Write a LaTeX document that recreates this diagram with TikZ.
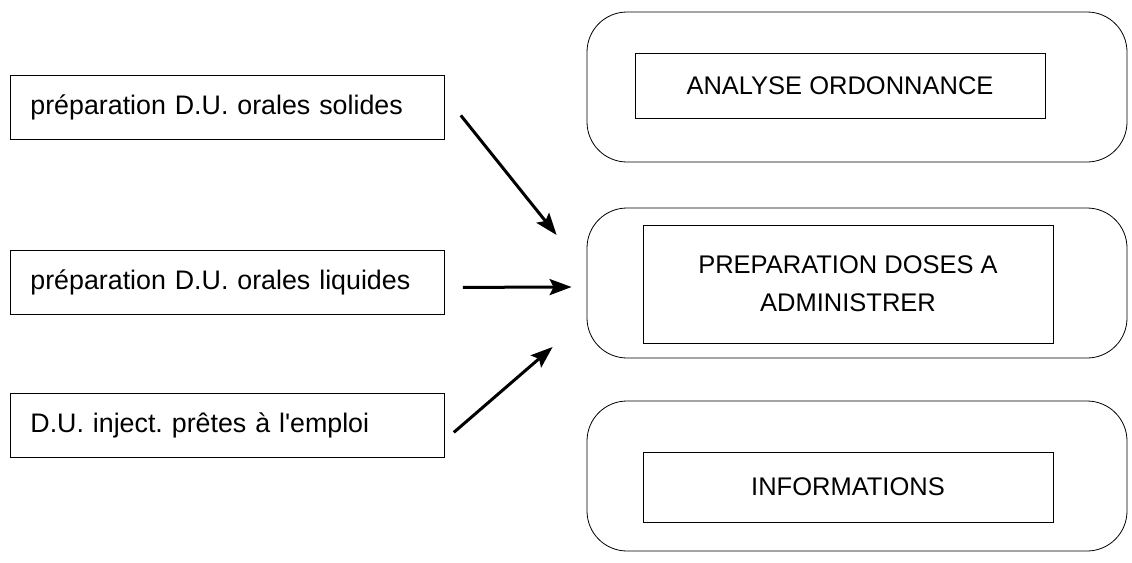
\documentclass[tikz,border=0pt]{standalone}
\usepackage{fontspec}
\setmainfont{Liberation Sans}
\frenchspacing
\usetikzlibrary{calc,arrows.meta}

\begin{document}
\begin{tikzpicture}[x=1pt, y=-1pt, line width=0.8pt,
  srcbox/.style={draw, anchor=north west, minimum height=64pt, inner xsep=20pt,
    text width=394pt, align=left, font=\fontsize{26.8}{30}\selectfont},
  stagebox/.style={draw, minimum width=410pt, align=center,
    font=\fontsize{25.5}{38}\selectfont},
  stageframe/.style={draw, rounded corners=40pt, minimum width=540pt, minimum height=150pt},
  feed/.style={-{Stealth[length=22pt, width=16pt, inset=4pt]}, line width=3pt}]
  \useasboundingbox (0,0) rectangle (1132,562);

  % Sources on the left
  \node[srcbox] (solides) at (10,75) {préparation D.U. orales solides};
  \node[srcbox] (liquides) at (10,250) {préparation D.U. orales liquides};
  \node[srcbox] (injectables) at (10,393) {D.U. inject. prêtes à l\textquotesingle emploi};

  % Stages on the right
  \node[stageframe] (analyseout) at (857,87) {};
  \node[stagebox, minimum height=65pt] (analyse) at (840,86) {ANALYSE ORDONNANCE};
  \node[stageframe] (prepout) at (857,283) {};
  \node[stagebox, minimum height=118pt] (prep) at (848,284) {PREPARATION DOSES A\\ADMINISTRER};
  \node[stageframe] (infoout) at (857,476) {};
  \node[stagebox, minimum height=70pt] (info) at (848,487) {INFORMATIONS};

  % Arrows into the preparation
  \draw[feed] ($(solides.east)+(16,8)$) -- ($(prepout.west)+(-30,-48)$);
  \draw[feed] ($(liquides.east)+(18,5)$) -- ($(prepout.west)+(-15,4)$);
  \draw[feed] ($(injectables.east)+(9,7)$) -- ($(prepout.west)+(-34,64)$);
\end{tikzpicture}
\end{document}
